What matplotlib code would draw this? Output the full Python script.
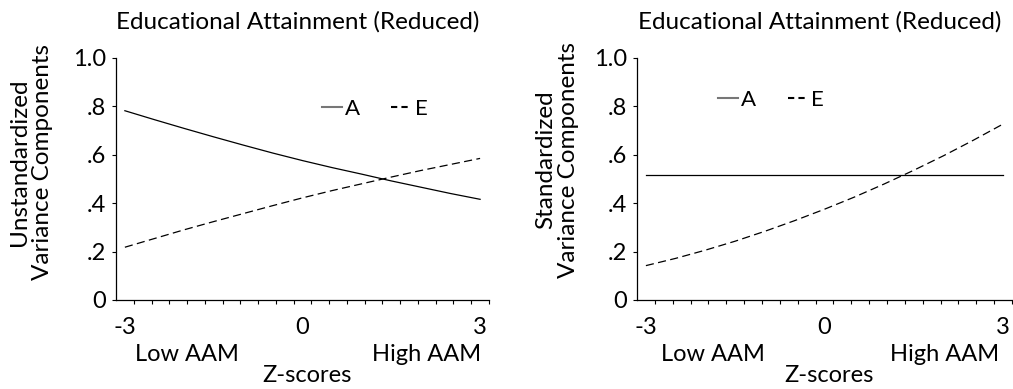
import numpy as np
import matplotlib
matplotlib.use('Agg')
import matplotlib.pyplot as plt
from matplotlib.lines import Line2D
from matplotlib.ticker import FixedLocator

plt.rcParams['font.family'] = ['Lato', 'DejaVu Sans']

# z-scores of AAM
z = [-3, -2.5, -2, -1.5, -1, -0.5, 0, 0.5, 1, 1.5, 2, 2.5, 3]

# unstandardized variance components
a_unstd = [0.782, 0.745, 0.709, 0.674, 0.640, 0.607, 0.576, 0.547, 0.520, 0.492, 0.466, 0.440, 0.416]
e_unstd = [0.218, 0.254, 0.290, 0.324, 0.357, 0.390, 0.422, 0.452, 0.480, 0.508, 0.535, 0.560, 0.585]

# standardized variance components
a_std = [0.518, 0.518, 0.518, 0.518, 0.518, 0.518, 0.518, 0.518, 0.518, 0.518, 0.518, 0.518, 0.518]
e_std = [0.142, 0.172, 0.206, 0.243, 0.284, 0.328, 0.375, 0.425, 0.479, 0.536, 0.596, 0.660, 0.727]

yticks = [0, 0.2, 0.4, 0.6, 0.8, 1.0]
yticklabels = ['0', '.2', '.4', '.6', '.8', '1.0']
xticks = [-3, 0, 3]
xticklabels = ['-3', '0', '3']

title = 'Educational Attainment (Reduced)'
panels = [
    (a_unstd, e_unstd, 'Unstandardized\nVariance Components'),
    (a_std, e_std, 'Standardized\nVariance Components'),
]

fig = plt.figure(figsize=(10.13, 3.89), dpi=100)
axes_rects = [[0.1145, 0.2288, 0.3682, 0.6222], [0.6288, 0.2288, 0.3702, 0.6222]]
legend_pos = [(0.552, 0.789), (0.216, 0.826)]
label_x = [(0.19, 0.834, 0.512, -0.228, 0.57), (0.203, 0.821, 0.512, -0.213, 0.58)]

fs = 17

for i, (a_vals, e_vals, ylab) in enumerate(panels):
    ax = fig.add_axes(axes_rects[i])
    ax.plot(z, a_vals, color='black', lw=0.9)
    ax.plot(z, e_vals, color='black', lw=0.9, dashes=(6.5, 3.5))

    ax.set_xlim(-3.15, 3.15)
    ax.set_ylim(0, 1.0)
    for s in ['top', 'right']:
        ax.spines[s].set_visible(False)
    for s in ['left', 'bottom']:
        ax.spines[s].set_linewidth(0.9)

    ax.set_yticks(yticks)
    ax.set_yticklabels(yticklabels, fontsize=fs)
    ax.tick_params(axis='y', length=3, width=0.8, pad=4)
    ax.set_xticks(xticks)
    ax.set_xticklabels(xticklabels, fontsize=fs)
    ax.tick_params(axis='x', which='major', length=0, pad=12)
    ax.xaxis.set_minor_locator(FixedLocator(np.arange(-2.85, 3.16, 0.3)))
    ax.tick_params(axis='x', which='minor', length=3, width=0.8)

    ax.set_title(title, fontsize=17.5, pad=21, x=0.488)

    ax.set_ylabel(ylab, fontsize=17.5, linespacing=1.1, va='center')
    ax.yaxis.set_label_coords(label_x[i][3], label_x[i][4])

    ax.text(label_x[i][0], -0.227, 'Low AAM', transform=ax.transAxes,
            ha='center', va='center', fontsize=fs)
    ax.text(label_x[i][1], -0.227, 'High AAM', transform=ax.transAxes,
            ha='center', va='center', fontsize=fs)
    ax.text(label_x[i][2], -0.31, 'Z-scores', transform=ax.transAxes,
            ha='center', va='center', fontsize=fs)

    handles = [Line2D([], [], color='#777777', lw=1.5),
               Line2D([], [], color='black', lw=1.5, dashes=(3, 2))]
    ax.legend(handles, ['A', 'E'], loc='center left', bbox_to_anchor=legend_pos[i],
              ncol=2, frameon=False, fontsize=16, handlelength=0.9,
              handletextpad=0.15, columnspacing=1.4, borderpad=0, borderaxespad=0)

fig.savefig('out.png', dpi=100)
